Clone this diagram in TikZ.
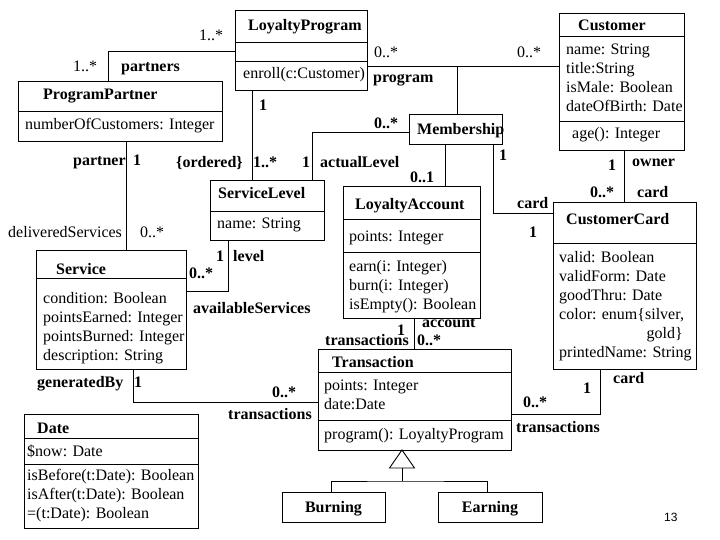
\documentclass[tikz,border=0pt]{standalone}
\usepackage{fontspec}
\setmainfont{Liberation Serif}
\newfontfamily\pagefont{Liberation Sans}
\begin{document}
\begin{tikzpicture}[x=1pt,y=-1pt,
  cls/.style={draw, line width=0.9pt, rectangle, inner sep=0pt, outer sep=0pt, anchor=north west},
  ttl/.style={font=\fontsize{16}{19}\selectfont\bfseries, inner sep=0pt, anchor=base west},
  txt/.style={font=\fontsize{16}{19}\selectfont, inner sep=0pt, anchor=base west, align=left},
  lbl/.style={font=\fontsize{16}{19}\selectfont\bfseries, inner sep=0pt, anchor=base west},
  mul/.style={font=\fontsize{16}{19}\selectfont, inner sep=0pt, anchor=base west},
  conn/.style={line width=0.9pt},
]
\useasboundingbox[fill=white] (0,0) rectangle (720,540);

% ---------- classes ----------
\node[cls, minimum width=132pt, minimum height=80pt] (lp) at (235,10) {};
\draw[conn] (lp.west |- 0,42) -- (lp.east |- 0,42);
\draw[conn] (lp.west |- 0,61) -- (lp.east |- 0,61);
\node[ttl] (lpT) at (248,31) {LoyaltyProgram};
\node[txt] (lpM) at (243,79) {enroll(c:Customer)};

\node[cls, minimum width=125pt, minimum height=137pt] (cu) at (559,13) {};
\draw[conn] (cu.west |- 0,36) -- (cu.east |- 0,36);
\draw[conn] (cu.west |- 0,121) -- (cu.east |- 0,121);
\node[ttl] (cuT) at (578,31) {Customer};
% base anchor of a multi-line node = baseline of its last line
\node[txt] (cuA) at (566,112) {name: String\\title:String\\isMale: Boolean\\dateOfBirth: Date};
\node[txt] (cuM) at (572,139) {age(): Integer};

\node[cls, minimum width=204pt, minimum height=60pt] (pp) at (18,81) {};
\draw[conn] (pp.west |- 0,111) -- (pp.east |- 0,111);
\node[ttl] (ppT) at (43,100) {ProgramPartner};
\node[txt] (ppA) at (25,130) {numberOfCustomers: Integer};

\node[cls, minimum width=93pt, minimum height=30pt] (ms) at (409,114) {};
\node[ttl] (msT) at (417,135) {Membership};

\node[cls, minimum width=114pt, minimum height=60pt] (sl) at (210,180) {};
\draw[conn] (sl.west |- 0,211) -- (sl.east |- 0,211);
\node[ttl] (slT) at (218,199) {ServiceLevel};
\node[txt] (slA) at (217,229) {name: String};

\node[cls, minimum width=137pt, minimum height=132pt] (la) at (343,186) {};
\draw[conn] (la.west |- 0,219) -- (la.east |- 0,219);
\draw[conn] (la.west |- 0,252) -- (la.east |- 0,252);
\node[ttl] (laT) at (355,210) {LoyaltyAccount};
\node[txt] (laA) at (349,241) {points: Integer};
\node[txt] (laM) at (349,309) {earn(i: Integer)\\burn(i: Integer)\\isEmpty(): Boolean};

\node[cls, minimum width=150pt, minimum height=119pt] (sv) at (36,250) {};
\draw[conn] (sv.west |- 0,278) -- (sv.east |- 0,278);
\node[ttl] (svT) at (56,274) {Service};
\node[txt] (svA) at (43,360) {condition: Boolean\\pointsEarned: Integer\\pointsBurned: Integer\\description: String};

\node[cls, minimum width=143pt, minimum height=167pt] (cc) at (553,202) {};
\draw[conn] (cc.west |- 0,243) -- (cc.east |- 0,243);
\node[ttl] (ccT) at (566,225) {CustomerCard};
\node[txt] (ccA) at (559,319) {valid: Boolean\\validForm: Date\\goodThru: Date\\color: enum\{silver,};
\node[txt, anchor=base east] (ccB) at (683,338) {gold\}};
\node[txt] (ccC) at (559,357) {printedName: String};

\node[cls, minimum width=193pt, minimum height=101pt] (tr) at (318,349) {};
\draw[conn] (tr.west |- 0,372) -- (tr.east |- 0,372);
\draw[conn] (tr.west |- 0,420) -- (tr.east |- 0,420);
\node[ttl] (trT) at (332,367) {Transaction};
\node[txt] (trA) at (324,409) {points: Integer\\date:Date};
\node[txt] (trM) at (324,439) {program(): LoyaltyProgram};

\node[cls, minimum width=174pt, minimum height=114pt] (dt) at (24,414) {};
\draw[conn] (dt.west |- 0,438) -- (dt.east |- 0,438);
\draw[conn] (dt.west |- 0,464) -- (dt.east |- 0,464);
\node[ttl] (dtT) at (37,433) {Date};
\node[txt] (dtA) at (27,456) {\$now: Date};
\node[txt] (dtM) at (27,518) {isBefore(t:Date): Boolean\\isAfter(t:Date): Boolean\\=(t:Date): Boolean};

\node[cls, minimum width=103pt, minimum height=30pt] (bu) at (282,492) {};
\node[ttl, anchor=base] (buT) at (333.5,512) {Burning};
\node[cls, minimum width=104pt, minimum height=30pt] (ea) at (438,492) {};
\node[ttl, anchor=base] (eaT) at (490,512) {Earning};

% ---------- connectors ----------
\coordinate (assoc) at (457,66);
\draw[conn] (pp.north -| 108,0) |- (lp.west |- 0,51);
\draw[conn] (pp.south -| 126,0) -- (sv.north -| 126,0);
\draw[conn] (lp.south -| 252,0) -- (sl.north -| 252,0);
\draw[conn] (lp.east |- 0,66) -- (cu.west |- 0,66);
\draw[conn] (ms.north -| assoc) -- (assoc);
\draw[conn] (ms.west |- 0,132) -| (sl.north -| 312,0);
\draw[conn] (ms.south -| 445,0) -- (la.north -| 445,0);
\draw[conn] (ms.south -| 493,0) |- (cc.west |- 0,213);
\draw[conn] (cu.south -| 624,0) -- (cc.north -| 624,0);
\draw[conn] (sl.south -| 228,0) |- (sv.east |- 0,291);
\draw[conn] (la.south -| 414,0) -- (tr.north -| 414,0);
\draw[conn] (sv.south -| 133,0) |- (tr.west |- 0,402);
\draw[conn] (tr.east |- 0,414) -| (cc.south -| 600,0);
% generalization
\coordinate (genApex) at (tr.south -| 402,0);
\coordinate (genBase) at (402,468);
\coordinate (genJoin) at (402,481);
\draw[conn] (genApex) -- (389.5,468) -- (414.5,468) -- cycle;
\draw[conn] (genBase) -- (genJoin);
\draw[conn] (bu.north -| 331,0) |- (genJoin) -| (ea.north -| 487,0);

% ---------- labels ----------
\node[mul] (m1) at (199,41) {1..*};
\node[mul] (m2) at (73,72) {1..*};
\node[lbl] (r1) at (121,72) {partners};
\node[mul] (m3) at (374,58) {0..*};
\node[lbl] (r2) at (373,83) {program};
\node[mul] (m4) at (517,58) {0..*};
\node[lbl] (m5) at (259,111) {1};
\node[lbl] (m6) at (374,129) {0..*};
\node[lbl] (r3) at (73,166) {partner};
\node[lbl] (m7) at (133,166) {1};
\node[lbl] (r4) at (176,168) {\{ordered\}};
\node[lbl] (m8) at (253,168) {1..*};
\node[lbl] (m9) at (302,168) {1};
\node[lbl] (r5) at (320,168) {actualLevel};
\node[lbl] (m10) at (410,183) {0..1};
\node[lbl] (m11) at (499,161) {1};
\node[lbl] (m12) at (608,171) {1};
\node[lbl] (r6) at (632,167) {owner};
\node[lbl] (m13) at (590,197) {0..*};
\node[lbl] (r7) at (637,197) {card};
\node[lbl] (r8) at (517,208) {card};
\node[lbl] (m14) at (529,237) {1};
\node[mul] (r9) at (8,237) {deliveredServices};
\node[mul] (m15) at (140,237) {0..*};
\node[lbl] (m16) at (216,261) {1};
\node[lbl] (r10) at (233,261) {level};
\node[lbl] (m17) at (189,278) {0..*};
\node[lbl] (r11) at (193,313) {availableServices};
\node[lbl] (m18) at (397,335) {1};
\node[lbl] (r12) at (422,327) {account};
\node[lbl] (r13) at (325,345) {transactions};
\node[lbl] (m19) at (417,345) {0..*};
\node[lbl] (r14) at (37,387) {generatedBy};
\node[lbl] (m20) at (134,387) {1};
\node[lbl] (m21) at (272,397) {0..*};
\node[lbl] (r15) at (228,419) {transactions};
\node[lbl] (m22) at (583,393) {1};
\node[lbl] (r16) at (613,383) {card};
\node[lbl] (m23) at (523,407) {0..*};
\node[lbl] (r17) at (516,432) {transactions};
\node[font=\pagefont\fontsize{12}{14}\selectfont, inner sep=0pt, anchor=base west] (pg) at (664,521) {13};
\end{tikzpicture}
\end{document}
